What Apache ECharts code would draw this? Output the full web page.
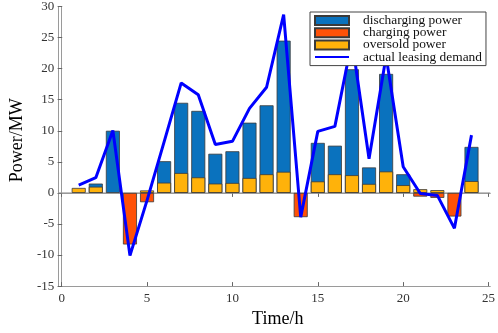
<!DOCTYPE html>
<html>
<head>
<meta charset="utf-8">
<script src="https://cdn.jsdelivr.net/npm/echarts@6/dist/echarts.min.js"></script>
<style>
    html, body { margin: 0; padding: 0; background: #fff; }
    #chart { width: 498px; height: 333px; }
</style>
</head>
<body>
<div id="chart"></div>
<script>
    // hours 1..24
    var hours = [1, 2, 3, 4, 5, 6, 7, 8, 9, 10, 11, 12, 13, 14, 15, 16, 17, 18, 19, 20, 21, 22, 23, 24];
    var discharging = [0, 0.5, 10, 0, 0, 3.45, 11.3, 10.7, 4.8, 5.1, 8.9, 11.1, 21.1, 0, 6.2, 4.6, 17.05, 2.65, 15.7, 1.75, 0, 0, 0, 5.5];
    var charging = [0, 0, 0, -8.3, -1.5, 0, 0, 0, 0, 0, 0, 0, 0, -3.9, 0, 0, 0, 0, 0, 0, -0.6, -0.8, -3.8, 0];
    var oversold = [0.8, 1.0, 0, 0, 0.4, 1.65, 3.2, 2.5, 1.5, 1.6, 2.4, 3.0, 3.4, 0, 1.85, 3.0, 2.85, 1.45, 3.45, 1.25, 0.6, 0.45, 0, 1.9];
    var demand = [1.25, 2.45, 10.05, -10.1, -1.2, 8.2, 17.7, 15.8, 7.8, 8.3, 13.6, 17.0, 28.7, -3.9, 9.9, 10.7, 24.5, 5.5, 22, 4.2, -0.1, -0.4, -5.7, 9.3];
    var xTicks = [0, 5, 10, 15, 20, 25];

    var serif = 'Liberation Serif';
    var axisGray = '#9a9a9a';

    // 0 -> no bar drawn
    function pairs(arr) {
        return hours.map(function(h, i) {
            return [h, arr[i] === 0 ? null : arr[i]];
        });
    }
    // discharging sits on top of oversold: draw it as full height, oversold drawn over it
    var dischargeTop = discharging.map(function(v, i) {
        return v === 0 ? 0 : v + oversold[i];
    });

    var chart = echarts.init(document.getElementById('chart'));
    var barEdge = { borderColor: '#3a3a3a', borderWidth: 0.8 };

    var option = {
        animation: false,
        grid: { left: 40, right: 6, top: 5, bottom: 36 },
        legend: {
            orient: 'vertical',
            left: 310,
            top: 12,
            data: [
                { name: 'discharging power', icon: 'rect' },
                { name: 'charging power', icon: 'rect' },
                { name: 'oversold power', icon: 'rect' },
                { name: 'actual leasing demand', itemStyle: { opacity: 0 } }
            ],
            itemWidth: 34,
            itemHeight: 9,
            itemGap: -0.8,
            padding: [2, 4, 2, 4],
            borderColor: '#444',
            borderWidth: 1,
            backgroundColor: '#fff',
            textStyle: {
                fontFamily: serif,
                fontSize: 13.4,
                color: '#111',
                padding: [0, 0, 0, 9]
            }
        },
        xAxis: [{
            type: 'value',
            min: -0.2,
            max: 25.1,
            name: 'Time/h',
            nameLocation: 'middle',
            nameGap: 15,
            nameTextStyle: { fontFamily: serif, fontSize: 18, color: '#000', padding: [0, 0, 0, 7] },
            axisLine: { onZero: false, lineStyle: { color: axisGray } },
            axisTick: { inside: true, length: 4, customValues: xTicks, lineStyle: { color: '#666' } },
            axisLabel: { customValues: xTicks, margin: 6, fontFamily: serif, fontSize: 13, color: '#333' },
            splitLine: { show: false }
        }, {
            type: 'value',
            position: 'top',
            min: -0.2,
            max: 25.1,
            axisLine: { show: true, lineStyle: { color: axisGray } },
            axisTick: { inside: true, length: 4, customValues: xTicks, lineStyle: { color: '#666' } },
            axisLabel: { show: false },
            splitLine: { show: false }
        }],
        yAxis: [{
            type: 'value',
            min: -15,
            max: 30,
            interval: 5,
            name: 'Power/MW',
            nameLocation: 'middle',
            nameGap: 21,
            nameTextStyle: { fontFamily: serif, fontSize: 18, color: '#000', padding: [0, 0, 0, 12] },
            axisLine: { show: true, onZero: false, lineStyle: { color: axisGray } },
            axisTick: { show: true, inside: true, length: 4, lineStyle: { color: '#666' } },
            axisLabel: { margin: 4, fontFamily: serif, fontSize: 13, color: '#333' },
            splitLine: { show: false }
        }, {
            type: 'value',
            position: 'right',
            min: -15,
            max: 30,
            interval: 5,
            axisLine: { show: true, lineStyle: { color: axisGray } },
            axisTick: { show: true, inside: true, length: 4, lineStyle: { color: '#666' } },
            axisLabel: { show: false },
            splitLine: { show: false }
        }],
        series: [{
            name: 'discharging power',
            type: 'bar',
            barWidth: 14,
            barGap: '-100%',
            z: 2,
            data: pairs(dischargeTop),
            itemStyle: Object.assign({ color: '#0A72BE' }, barEdge)
        }, {
            name: 'charging power',
            type: 'bar',
            barWidth: 14,
            barGap: '-100%',
            z: 2,
            data: pairs(charging),
            itemStyle: Object.assign({ color: '#FF5208' }, barEdge)
        }, {
            name: 'oversold power',
            type: 'bar',
            barWidth: 14,
            barGap: '-100%',
            z: 2,
            data: pairs(oversold),
            itemStyle: Object.assign({ color: '#FFB20A' }, barEdge)
        }, {
            name: 'actual leasing demand',
            type: 'line',
            data: hours.map(function(h, i) { return [h, demand[i]]; }),
            symbol: 'none',
            z: 3,
            lineStyle: { color: '#0000FF', width: 3 },
            itemStyle: { color: '#0000FF' }
        }]
    };

    chart.setOption(option);

    // zero line like the reference
    var p0 = chart.convertToPixel({ xAxisIndex: 0, yAxisIndex: 0 }, [-0.2, 0]);
    var p1 = chart.convertToPixel({ xAxisIndex: 0, yAxisIndex: 0 }, [25.1, 0]);
    chart.setOption({
        graphic: [{
            type: 'line',
            z: 1,
            shape: { x1: p0[0], y1: p0[1], x2: p1[0], y2: p1[1] },
            style: { stroke: '#999', lineWidth: 1 }
        }]
    });
</script>
</body>
</html>
